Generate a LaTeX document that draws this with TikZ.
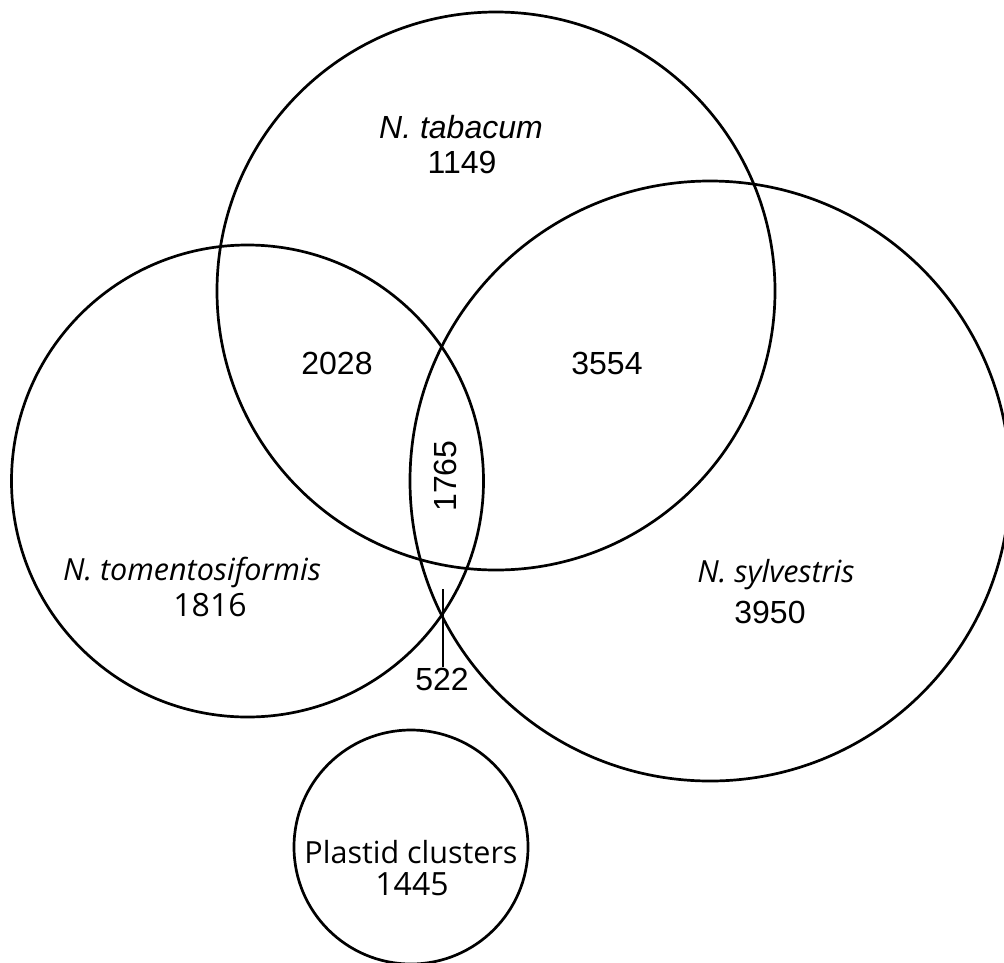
\documentclass[tikz,border=0pt]{standalone}
\usepackage{fontspec}
\setmainfont{Liberation Sans}
\newfontfamily\osans{Open Sans}
\begin{document}
\begin{tikzpicture}[x=1pt,y=-1pt,
  ring/.style={draw=black,line width=2.7pt,circle,inner sep=0pt},
  lbl/.style={inner sep=0pt,font=\fontsize{32}{38}\selectfont},
  olbl/.style={inner sep=0pt,font=\osans\fontsize{32}{38}\selectfont},
  otxt/.style={inner sep=0pt,font=\osans\fontsize{30.5}{36}\selectfont}]
\useasboundingbox (0,0) rectangle (1004,962);
\fill[white] (0,0) rectangle (1004,962);
\node[ring,minimum size=558pt] (tab) at (496,291) {};
\node[ring,minimum size=472pt] (tom) at (247.5,481) {};
\node[ring,minimum size=600pt] (syl) at (710,481) {};
\node[ring,minimum size=234pt] (pla) at (411,847) {};
% labels
\node[lbl] (tabn) at (461,127) {\itshape N. tabacum};
\node[lbl] (tabc) at (462,162) {1149};
\node[lbl] (ttc) at (337,363) {2028};
\node[lbl] (tsc) at (607,363) {3554};
\node[lbl,rotate=90] (all) at (445,476) {1765};
\node[otxt] (tomn) at (192,572) {\itshape N. tomentosiformis};
\node[olbl] (tomc) at (210,605) {1816};
\node[otxt] (syln) at (776,575) {\itshape N. sylvestris};
\node[lbl] (sylc) at (770,612) {3950};
\node[otxt] (plan) at (411,852) {Plastid clusters};
\node[olbl] (plac) at (412,884) {1445};
\node[lbl] (ts) at (442,679) {522};
\coordinate (tsp) at (443,589);
\draw[line width=2.7pt] (tsp) -- (ts.north -| tsp) ++(0,-3pt);
\end{tikzpicture}
\end{document}
